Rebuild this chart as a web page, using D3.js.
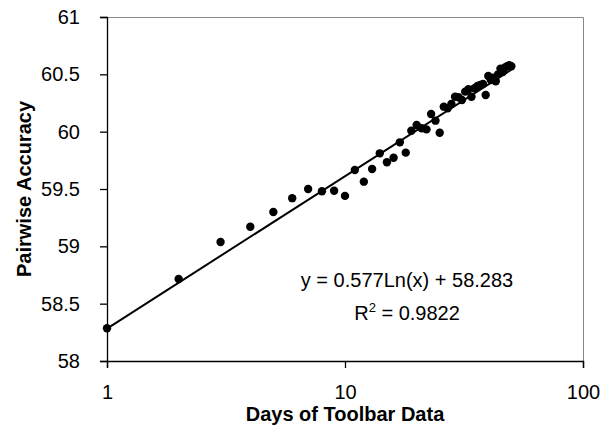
<!DOCTYPE html>
<html>
<head>
<meta charset="utf-8">
<script src="https://cdn.jsdelivr.net/npm/d3@7"></script>
<style>
	html, body { margin: 0; padding: 0; background: #fff; }
	svg text { font-family: Arial, 'Liberation Sans', sans-serif; fill: #000; }
</style>
</head>
<body>
<div id="chart"></div>
<script>
// Days of toolbar data vs. pairwise accuracy.
var days = [ 1, 2, 3, 4, 5, 6, 7, 8, 9, 10,
	11, 12, 13, 14, 15, 16, 17, 18, 19, 20,
	21, 22, 23, 24, 25, 26, 27, 28, 29, 30,
	31, 32, 33, 34, 35, 36, 37, 38, 39, 40,
	41, 42, 43, 44, 45, 46, 47, 48, 49, 50 ];

var accuracy = [ 58.285, 58.715, 59.038, 59.171, 59.30, 59.42, 59.50, 59.48, 59.485, 59.44,
	59.666, 59.564, 59.674, 59.811, 59.733, 59.773, 59.907, 59.817, 60.008, 60.058,
	60.03, 60.02, 60.154, 60.096, 59.99, 60.218, 60.204, 60.241, 60.305, 60.30,
	60.276, 60.349, 60.37, 60.305, 60.378, 60.398, 60.407, 60.416, 60.32, 60.485,
	60.45, 60.47, 60.44, 60.50, 60.55, 60.52, 60.56, 60.57, 60.58, 60.57 ];

var xTicks = [ 1, 10, 100 ];
var yTicks = [ 58, 58.5, 59, 59.5, 60, 60.5, 61 ];

// Log trendline: y = a * ln(x) + b
var trendA = 0.577;
var trendB = 58.283;
var trendRange = [ 1, 50 ];

( function () {

	var width = 612;
	var height = 433;
	var margins = { top: 17, left: 107, bottom: 72, right: 29 };
	var plotW = width - margins.left - margins.right;
	var plotH = height - margins.top - margins.bottom;
	var fontSize = 20;

	var svg = d3.select( '#chart' ).append( 'svg' )
		.attr( 'width', width )
		.attr( 'height', height );

	var g = svg.append( 'g' )
		.attr( 'transform', 'translate( ' + margins.left + ', ' + margins.top + ' )' );

	var xScale = d3.scaleLog().domain( [ 1, 100 ] ).range( [ 0, plotW ] );
	var yScale = d3.scaleLinear().domain( [ 58, 61 ] ).range( [ plotH, 0 ] );

	// Frame: grey top and right edges.
	g.append( 'path' )
		.attr( 'd', 'M0,0.5H' + ( plotW + 0.5 ) + 'V' + plotH )
		.attr( 'fill', 'none' )
		.attr( 'stroke', '#888' )
		.attr( 'stroke-width', 1 );

	// Y axis.
	var yAxis = d3.axisLeft( yScale )
		.tickValues( yTicks )
		.tickSize( 7 )
		.tickPadding( 20 )
		.tickFormat( d3.format( '' ) );

	var yG = g.append( 'g' ).call( yAxis );

	// X axis.
	var xAxis = d3.axisBottom( xScale )
		.tickValues( xTicks )
		.tickSize( 7 )
		.tickPadding( 17 )
		.tickFormat( d3.format( 'd' ) );

	var xG = g.append( 'g' )
		.attr( 'transform', 'translate( 0, ' + plotH + ' )' )
		.call( xAxis );

	[ yG, xG ].forEach( function ( axis ) {
		axis.select( '.domain' ).attr( 'stroke', '#000' ).attr( 'stroke-width', 1.3 );
		axis.selectAll( '.tick line' ).attr( 'stroke', '#000' ).attr( 'stroke-width', 1.3 );
		axis.selectAll( '.tick text' )
			.attr( 'font-size', fontSize )
			.attr( 'font-family', 'Arial, Liberation Sans, sans-serif' );
	} );

	// Trendline, straight on a log axis.
	var line = d3.line()
		.x( function ( d ) { return xScale( d ); } )
		.y( function ( d ) { return yScale( trendA * Math.log( d ) + trendB ); } );

	g.append( 'path' )
		.datum( trendRange )
		.attr( 'd', line )
		.attr( 'fill', 'none' )
		.attr( 'stroke', '#000' )
		.attr( 'stroke-width', 2 );

	// Points.
	g.selectAll( 'circle' )
		.data( days )
		.enter()
		.append( 'circle' )
		.attr( 'cx', function ( d ) { return xScale( d ); } )
		.attr( 'cy', function ( d, i ) { return yScale( accuracy[i] ); } )
		.attr( 'r', 4.2 )
		.attr( 'fill', '#000' );

	// Equation labels.
	g.append( 'text' )
		.attr( 'x', 407 - margins.left )
		.attr( 'y', 287 - margins.top )
		.attr( 'text-anchor', 'middle' )
		.attr( 'font-size', fontSize )
		.text( 'y = 0.577Ln(x) + 58.283' );

	var r2 = g.append( 'text' )
		.attr( 'x', 407 - margins.left )
		.attr( 'y', 320 - margins.top )
		.attr( 'text-anchor', 'middle' )
		.attr( 'font-size', fontSize );
	r2.append( 'tspan' ).text( 'R' );
	r2.append( 'tspan' ).attr( 'font-size', 13 ).attr( 'dy', -8 ).text( '2' );
	r2.append( 'tspan' ).attr( 'dy', 8 ).text( ' = 0.9822' );

	// Axis titles.
	svg.append( 'text' )
		.attr( 'x', margins.left + plotW / 2 )
		.attr( 'y', 421 )
		.attr( 'text-anchor', 'middle' )
		.attr( 'font-size', fontSize )
		.attr( 'font-weight', 'bold' )
		.text( 'Days of Toolbar Data' );

	svg.append( 'text' )
		.attr( 'transform', 'translate( 31, ' + ( margins.top + plotH / 2 ) + ' ) rotate( -90 )' )
		.attr( 'text-anchor', 'middle' )
		.attr( 'font-size', fontSize )
		.attr( 'font-weight', 'bold' )
		.text( 'Pairwise Accuracy' );

} )();
</script>
</body>
</html>
